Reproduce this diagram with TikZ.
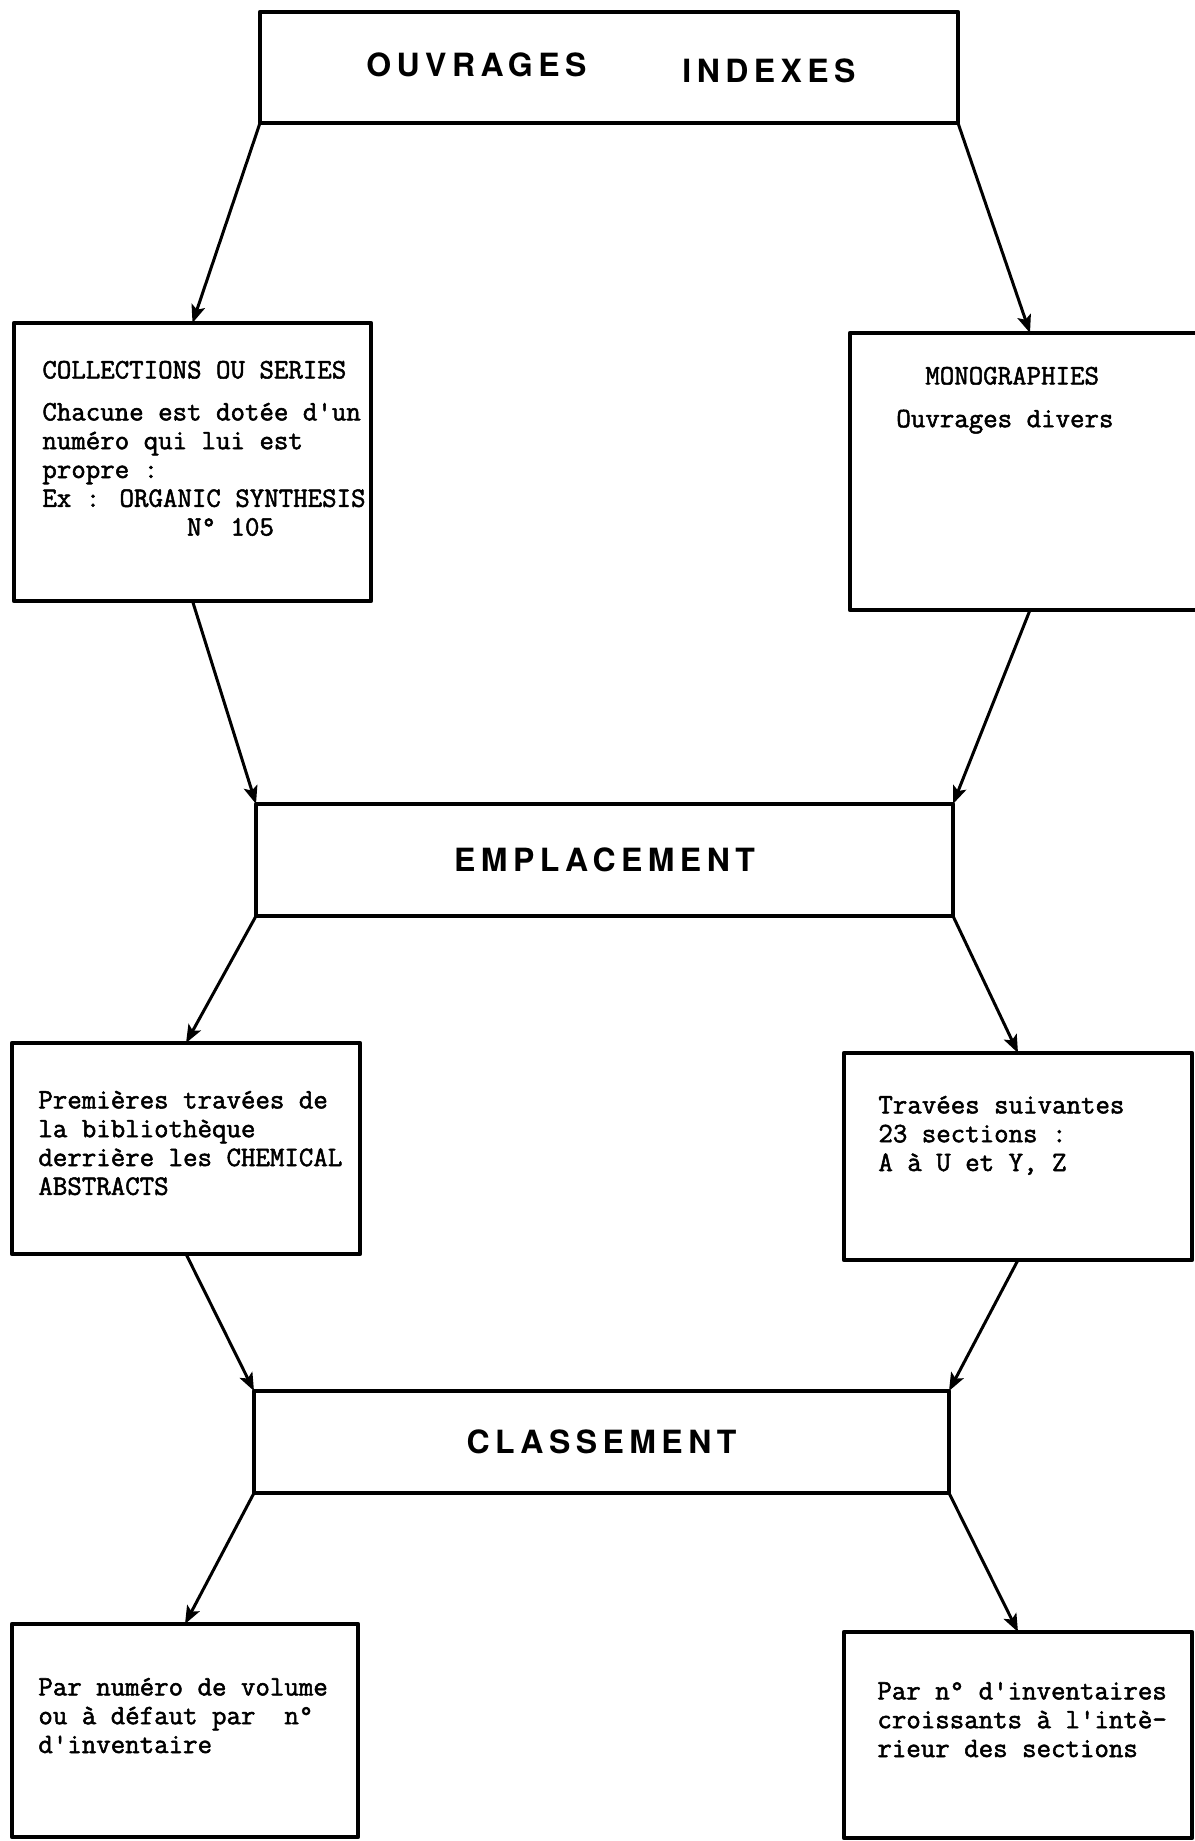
\documentclass[tikz,border=0pt]{standalone}
\usepackage{fontspec}
\usetikzlibrary{arrows.meta,calc}
% typewriter text of the boxes and the spaced bold headings
\newfontfamily\typewriter{Latin Modern Mono}[FakeBold=1.8]
\newfontfamily\headfont{TeX Gyre Heros}[LetterSpace=17]
% fixes the height of a first line, so that a box text is placed by its baseline
\newcommand\firstline{\rule{0pt}{10pt}}

\begin{document}
\begin{tikzpicture}[x=0.5pt,y=-0.5pt,
  box/.style={draw, line width=2.2pt, rectangle, inner sep=0pt, outer sep=0pt,
              line join=round, fill=white},
  heading/.style={font=\headfont\bfseries\fontsize{16}{19}\selectfont},
  body/.style={font=\typewriter\fontsize{14.05}{14.4}\selectfont,
               align=left, inner sep=0pt, anchor=north west},
  link/.style={line width=1.5pt, line cap=round,
               -{Stealth[length=9pt,width=7pt,inset=2pt]}}
]
\fill[white] (0,0) rectangle (1194,1841);
\useasboundingbox (0,0) rectangle (1194,1841);

% boxes
\node[box, heading, minimum width=349pt, minimum height=55.5pt] (top) at (609,67.5)
  {\hspace{2pt}OUVRAGES\hspace{48pt}\raisebox{-3pt}{INDEXES}};
\node[box, minimum width=178.5pt, minimum height=139pt] (coll) at (192.5,462) {};
\node[box, minimum width=180pt, minimum height=138.5pt] (mono) at (1030,471.5) {};
\node[box, heading, minimum width=348.5pt, minimum height=56pt] (empl) at (604.5,860)
  {EMPLACEMENT};
\node[box, minimum width=174pt, minimum height=105.5pt] (prem) at (186,1148.5) {};
\node[box, minimum width=174pt, minimum height=103.5pt] (trav) at (1018,1156.5) {};
\node[box, heading, minimum width=347.5pt, minimum height=51pt] (class) at (601.5,1442)
  {CLASSEMENT};
\node[box, minimum width=173pt, minimum height=106.5pt] (pnum) at (185,1730.5) {};
\node[box, minimum width=174pt, minimum height=103pt] (pinv) at (1018,1735) {};

% texts of the boxes
\node[body] (tcoll) at (42,358) {\firstline COLLECTIONS OU SERIES\\[6.6pt]
  Chacune est dotée d'un\\
  numéro qui lui est\\
  propre :\\
  Ex : ORGANIC SYNTHESIS\\
  \phantom{xxxxxxxxxx}N° 105};
\node[body] (tmono) at (896,364) {\firstline\phantom{xx}MONOGRAPHIES\\[7pt]
  Ouvrages divers};
\node[body] (tprem) at (38,1088) {\firstline Premières travées de\\
  la bibliothèque\\
  derrière les CHEMICAL\\
  ABSTRACTS};
\node[body] (ttrav) at (878,1093) {\firstline Travées suivantes\\
  23 sections :\\
  A à U et Y, Z};
\node[body] (tpnum) at (38,1675) {\firstline Par numéro de volume\\
  ou à défaut par\ \ n°\\
  d'inventaire};
\node[body] (tpinv) at (877,1679) {\firstline Par n° d'inventaires\\
  croissants à l'intè-\\
  rieur des sections};

% connectors
\draw[link] (top.south west) -- (coll.north);
\draw[link] (top.south east) -- (mono.north);
\draw[link] (coll.south) -- (empl.north west);
\draw[link] (mono.south) -- (empl.north east);
\draw[link] (empl.south west) -- (prem.north);
\draw[link] (empl.south east) -- (trav.north);
\draw[link] (prem.south) -- (class.north west);
\draw[link] (trav.south) -- (class.north east);
\draw[link] (class.south west) -- (pnum.north);
\draw[link] (class.south east) -- (pinv.north);
\end{tikzpicture}
\end{document}
